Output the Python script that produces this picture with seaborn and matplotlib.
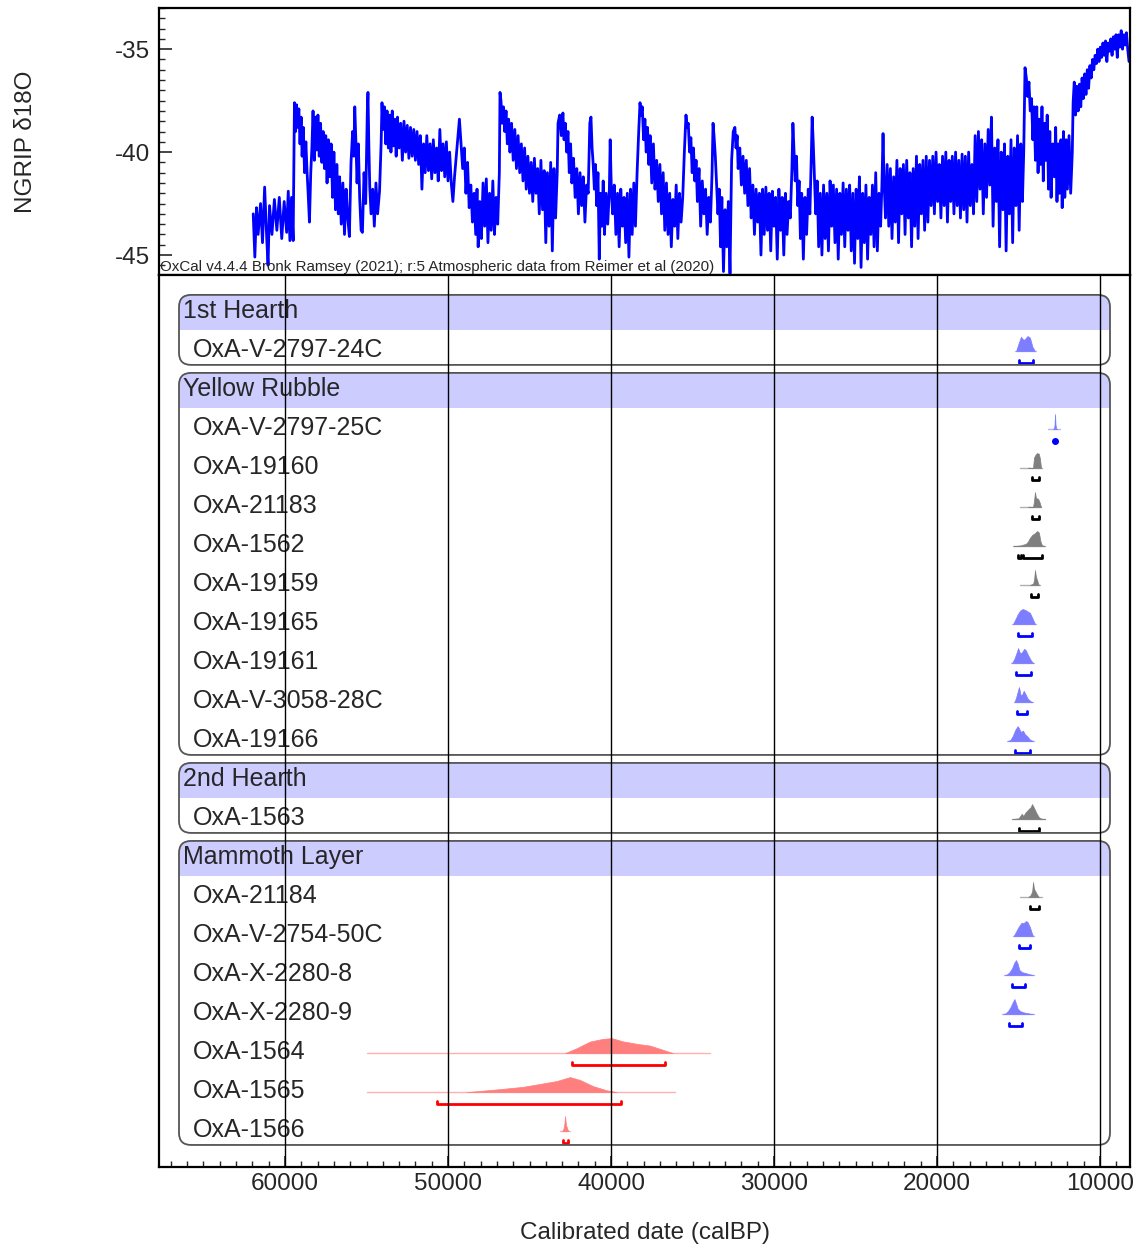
import numpy as np
import pandas as pd
import matplotlib
matplotlib.use("Agg")
import matplotlib.pyplot as plt
import seaborn as sns
from matplotlib.patches import FancyBboxPatch, Rectangle
from matplotlib.ticker import MultipleLocator

# NGRIP d18O record: (age calBP, permil)
ngrip = [
    (61950, -43.0), (61850, -45.1), (61750, -42.7), (61650, -44.0), (61500, -42.5), (61380, -44.4),
    (61250, -41.7), (61120, -44.2), (61040, -45.5), (60950, -42.6), (60800, -44.0), (60650, -42.3),
    (60500, -43.8), (60350, -42.2), (60200, -44.2), (60050, -42.4), (59900, -43.9), (59800, -41.9),
    (59700, -44.3), (59600, -42.2), (59500, -44.3),
    (59420, -37.6), (59350, -39.0), (59290, -37.7), (59220, -38.8), (59150, -37.9), (59080, -39.6),
    (59010, -38.3), (58950, -40.2), (58880, -38.8), (58800, -41.0), (58720, -39.5), (58650, -40.9),
    (58580, -42.0), (58500, -43.4), (58420, -41.0), (58350, -39.8), (58280, -38.0), (58200, -40.4),
    (58130, -38.3), (58050, -39.9), (57980, -38.2), (57900, -40.2), (57820, -38.6), (57740, -40.5),
    (57660, -39.0), (57580, -40.8), (57500, -39.2), (57420, -41.5), (57340, -39.4), (57250, -41.2),
    (57170, -39.6), (57080, -42.2), (57000, -40.0), (56900, -42.8), (56820, -40.6), (56730, -43.0),
    (56650, -41.2), (56550, -43.5), (56450, -41.5), (56350, -44.0), (56250, -41.8), (56150, -43.2),
    (56050, -44.1), (55950, -40.5), (55850, -39.0), (55780, -40.2), (55720, -37.8), (55650, -39.5),
    (55580, -41.5), (55500, -39.6), (55420, -42.2), (55330, -43.8), (55250, -43.9), (55150, -41.0),
    (55050, -42.5), (54950, -38.0), (54910, -37.1), (54860, -39.5), (54800, -41.7), (54720, -43.0),
    (54620, -41.8), (54520, -43.6), (54420, -41.5), (54320, -43.0), (54200, -41.9), (54100, -39.5),
    (54050, -37.6), (53980, -38.9), (53900, -37.8), (53820, -39.6), (53740, -38.0), (53660, -39.8),
    (53580, -38.2), (53500, -40.0), (53420, -38.0), (53340, -39.7), (53260, -38.4), (53180, -40.2),
    (53100, -38.3), (53000, -39.8), (52900, -38.6), (52800, -40.4), (52700, -38.5), (52600, -40.0),
    (52500, -38.7), (52400, -40.3), (52300, -38.8), (52200, -40.2), (52100, -38.9), (52000, -40.4),
    (51900, -39.0), (51800, -40.6), (51700, -39.2), (51600, -41.8), (51500, -39.6), (51400, -41.0),
    (51300, -39.2), (51200, -40.9), (51100, -39.6), (51000, -41.3), (50900, -39.4), (50800, -41.0),
    (50700, -39.8), (50600, -41.4), (50500, -38.9), (50400, -40.9), (50300, -39.6), (50200, -41.2),
    (50100, -39.5), (50000, -41.4), (49900, -40.0), (49800, -41.5), (49700, -42.4), (49600, -41.2),
    (49450, -39.8), (49300, -38.4), (49200, -39.6), (49100, -40.8), (49000, -39.8), (48900, -42.0),
    (48800, -40.5), (48700, -42.7), (48600, -41.6), (48500, -43.4), (48400, -42.0), (48300, -44.0),
    (48220, -41.8), (48150, -44.6), (48050, -42.4), (47950, -44.2), (47850, -41.5), (47750, -43.6),
    (47650, -41.3), (47550, -44.4), (47450, -42.0), (47350, -43.8), (47250, -41.4), (47150, -44.0),
    (47050, -42.2), (46950, -43.5), (46850, -41.0), (46810, -37.1), (46750, -37.5), (46680, -38.6),
    (46600, -37.8), (46520, -39.0), (46440, -38.0), (46360, -39.6), (46280, -38.4), (46200, -40.0),
    (46100, -38.6), (46000, -40.4), (45900, -38.9), (45800, -40.8), (45700, -39.2), (45600, -41.0),
    (45500, -39.6), (45400, -41.4), (45300, -39.8), (45200, -41.8), (45100, -40.2), (45000, -42.0),
    (44900, -40.5), (44800, -42.4), (44700, -40.3), (44600, -42.0), (44500, -40.8), (44400, -43.0),
    (44300, -40.4), (44200, -42.8), (44100, -40.9), (44000, -44.4), (43900, -41.0), (43800, -43.6),
    (43700, -40.5), (43600, -44.8), (43500, -40.8), (43400, -43.2), (43300, -41.0), (43250, -38.6),
    (43150, -38.2), (43050, -39.2), (42950, -38.1), (42880, -39.4), (42800, -38.6), (42720, -40.0),
    (42640, -39.0), (42560, -41.0), (42480, -39.6), (42400, -41.5), (42300, -40.3), (42200, -42.2),
    (42100, -40.8), (42000, -43.0), (41900, -41.0), (41800, -42.6), (41700, -41.2), (41600, -43.4),
    (41500, -41.6), (41400, -42.0), (41300, -38.6), (41230, -38.3), (41160, -39.8), (41100, -40.5),
    (41020, -41.8), (40950, -40.6), (40880, -42.6), (40800, -41.0), (40720, -45.2), (40650, -42.0),
    (40560, -43.6), (40480, -41.4), (40400, -44.0), (40300, -42.0), (40200, -43.5), (40100, -41.8),
    (40050, -39.4), (39980, -41.8), (39900, -43.0), (39800, -41.6), (39700, -44.0), (39600, -42.0),
    (39500, -44.6), (39400, -41.8), (39300, -43.6), (39200, -42.2), (39100, -44.4), (39000, -42.0),
    (38900, -45.1), (38800, -41.8), (38700, -44.0), (38600, -41.5), (38500, -43.6), (38400, -41.0),
    (38300, -39.0), (38220, -37.6), (38150, -38.2), (38080, -37.8), (38000, -39.4), (37920, -38.4),
    (37840, -40.0), (37760, -38.8), (37680, -40.6), (37600, -39.2), (37500, -41.5), (37400, -39.6),
    (37300, -41.8), (37200, -40.4), (37100, -42.4), (37000, -40.6), (36900, -43.0), (36800, -41.0),
    (36700, -43.8), (36600, -41.5), (36500, -44.0), (36400, -42.0), (36300, -44.6), (36200, -42.3),
    (36100, -43.6), (36000, -41.6), (35900, -44.2), (35800, -42.0), (35700, -43.4), (35600, -42.2),
    (35500, -40.0), (35400, -38.2), (35330, -38.8), (35260, -38.6), (35180, -40.0), (35100, -39.3),
    (35020, -41.0), (34940, -39.8), (34860, -41.4), (34780, -40.4), (34700, -42.4), (34600, -40.8),
    (34500, -43.6), (34400, -41.4), (34300, -43.0), (34200, -41.8), (34100, -44.0), (34000, -42.2),
    (33900, -43.4), (33800, -41.0), (33740, -38.6), (33680, -39.2), (33600, -40.2), (33520, -41.6),
    (33440, -43.0), (33360, -41.8), (33280, -44.6), (33200, -42.2), (33100, -45.8), (33000, -42.8),
    (32900, -44.6), (32800, -42.4), (32700, -45.9), (32600, -40.4), (32500, -39.0), (32400, -38.8),
    (32330, -39.8), (32260, -39.2), (32200, -40.8), (32100, -39.8), (32000, -41.6), (31900, -40.2),
    (31800, -42.0), (31700, -40.4), (31600, -42.6), (31500, -40.8), (31400, -43.2), (31300, -41.6),
    (31200, -44.0), (31100, -41.8), (31000, -43.4), (30900, -42.0), (30800, -45.0), (30700, -41.8),
    (30600, -44.0), (30500, -41.7), (30400, -43.8), (30300, -42.0), (30200, -44.8), (30100, -41.9),
    (30000, -43.6), (29900, -42.2), (29800, -45.2), (29700, -41.8), (29600, -43.8), (29500, -42.2),
    (29400, -45.0), (29300, -42.0), (29200, -44.0), (29100, -42.4), (29000, -43.2), (28900, -40.8),
    (28840, -38.6), (28780, -39.8), (28700, -41.4), (28620, -40.2), (28540, -42.6), (28460, -41.4),
    (28380, -44.2), (28300, -42.0), (28200, -45.2), (28100, -42.2), (28000, -44.0), (27900, -41.8),
    (27800, -43.0), (27700, -39.8), (27660, -38.3), (27600, -39.4), (27520, -41.2), (27440, -43.0),
    (27350, -41.4), (27260, -44.6), (27160, -42.0), (27060, -45.0), (26960, -41.6), (26860, -44.2),
    (26760, -42.0), (26660, -44.8), (26560, -41.4), (26460, -43.6), (26360, -41.6), (26260, -44.4),
    (26160, -41.8), (26060, -45.2), (25960, -42.0), (25860, -44.0), (25760, -41.5), (25660, -44.6),
    (25560, -41.8), (25460, -43.8), (25360, -41.6), (25260, -44.8), (25160, -42.0), (25060, -45.4),
    (24960, -41.8), (24860, -44.2), (24760, -41.2), (24660, -45.6), (24560, -42.0), (24460, -44.4),
    (24360, -41.6), (24260, -45.2), (24160, -42.2), (24060, -44.0), (23960, -41.6), (23860, -44.6),
    (23760, -41.0), (23660, -44.8), (23560, -42.0), (23460, -43.6), (23380, -41.6), (23310, -39.1),
    (23250, -41.4), (23160, -43.2), (23060, -40.6), (22960, -43.6), (22860, -40.8), (22760, -44.2),
    (22660, -41.2), (22560, -43.4), (22460, -40.4), (22360, -44.4), (22260, -40.8), (22160, -43.0),
    (22060, -40.6), (21960, -44.0), (21860, -40.4), (21760, -43.2), (21660, -41.0), (21560, -44.6),
    (21460, -40.8), (21360, -43.6), (21260, -40.2), (21160, -44.2), (21060, -40.6), (20960, -43.0),
    (20860, -40.4), (20760, -43.8), (20660, -40.2), (20560, -43.4), (20460, -40.4), (20360, -42.6),
    (20260, -40.2), (20160, -43.0), (20060, -40.0), (19960, -42.4), (19860, -40.6), (19760, -43.2),
    (19660, -40.2), (19560, -42.6), (19460, -40.0), (19360, -43.4), (19260, -40.4), (19160, -42.4),
    (19060, -40.2), (18960, -43.0), (18860, -40.0), (18760, -42.6), (18660, -40.4), (18560, -43.2),
    (18460, -40.1), (18360, -42.8), (18260, -40.2), (18160, -43.4), (18060, -40.0), (17960, -42.6),
    (17860, -40.6), (17760, -43.0), (17660, -39.2), (17560, -42.4), (17460, -39.0), (17360, -41.8),
    (17260, -39.4), (17160, -43.0), (17060, -39.6), (16960, -42.2), (16860, -38.9), (16760, -41.6),
    (16660, -38.3), (16560, -43.6), (16460, -39.8), (16360, -42.4), (16260, -39.4), (16160, -44.6),
    (16060, -40.0), (15960, -42.8), (15860, -39.6), (15760, -44.8), (15660, -40.2), (15560, -43.0),
    (15460, -39.4), (15360, -44.4), (15260, -39.8), (15160, -42.6), (15060, -39.2), (14960, -43.8),
    (14860, -39.6), (14760, -42.4), (14680, -40.0), (14620, -37.0), (14600, -35.9), (14520, -36.4),
    (14440, -37.3), (14360, -36.6), (14280, -38.0), (14200, -37.4), (14120, -39.4), (14040, -37.8),
    (13960, -40.4), (13880, -37.8), (13800, -41.0), (13720, -38.4), (13640, -40.6), (13560, -37.8),
    (13480, -41.4), (13400, -38.6), (13320, -40.4), (13240, -38.2), (13160, -41.8), (13080, -39.0),
    (13000, -42.2), (12900, -39.6), (12800, -41.2), (12720, -38.8), (12640, -42.4), (12560, -39.6),
    (12480, -42.0), (12400, -39.4), (12320, -42.7), (12240, -39.0), (12160, -42.2), (12080, -39.4),
    (12000, -41.8), (11900, -39.2), (11800, -42.0), (11700, -40.0), (11650, -37.6), (11580, -36.6),
    (11500, -38.2), (11420, -36.8), (11340, -38.0), (11260, -36.7), (11180, -37.8), (11100, -36.4),
    (11020, -37.4), (10940, -36.2), (10860, -37.2), (10780, -36.0), (10700, -36.9), (10620, -35.8),
    (10540, -36.4), (10460, -35.5), (10380, -36.0), (10300, -35.3), (10220, -35.7), (10140, -35.0),
    (10060, -35.6), (9980, -34.9), (9900, -35.4), (9820, -34.7), (9740, -35.3), (9660, -34.6),
    (9580, -35.6), (9500, -34.7), (9420, -35.1), (9340, -34.5), (9260, -35.3), (9180, -34.4),
    (9100, -35.0), (9020, -34.3), (8940, -35.4), (8860, -34.3), (8780, -34.9), (8700, -34.1),
    (8620, -35.0), (8540, -34.3), (8460, -34.8), (8380, -34.2), (8300, -35.0), (8220, -35.6),
]

groups = ["1st Hearth", "Yellow Rubble", "2nd Hearth", "Mammoth Layer"]
members = {
    "1st Hearth": ["OxA-V-2797-24C"],
    "Yellow Rubble": ["OxA-V-2797-25C", "OxA-19160", "OxA-21183", "OxA-1562", "OxA-19159",
                      "OxA-19165", "OxA-19161", "OxA-V-3058-28C", "OxA-19166"],
    "2nd Hearth": ["OxA-1563"],
    "Mammoth Layer": ["OxA-21184", "OxA-V-2754-50C", "OxA-X-2280-8", "OxA-X-2280-9",
                      "OxA-1564", "OxA-1565", "OxA-1566"],
}

kind = {
    "OxA-V-2797-24C": "blue", "OxA-V-2797-25C": "blue", "OxA-19160": "grey", "OxA-21183": "grey",
    "OxA-1562": "grey", "OxA-19159": "grey", "OxA-19165": "blue", "OxA-19161": "blue",
    "OxA-V-3058-28C": "blue", "OxA-19166": "blue", "OxA-1563": "grey", "OxA-21184": "grey",
    "OxA-V-2754-50C": "blue", "OxA-X-2280-8": "blue", "OxA-X-2280-9": "blue",
    "OxA-1564": "red", "OxA-1565": "red", "OxA-1566": "red",
}

# calibrated probability (relative height) against age calBP
dist_age = {
    "OxA-V-2797-24C": [15150, 15000, 14850, 14750, 14650, 14450, 14300, 14150, 14000],
    "OxA-V-2797-25C": [12880, 12820, 12790, 12760, 12730, 12690, 12640],
    "OxA-19160": [14400, 14110, 14050, 13950, 13870, 13750, 13680, 13620],
    "OxA-21183": [14400, 14110, 14050, 13990, 13930, 13800, 13700, 13620],
    "OxA-1562": [15300, 14900, 14700, 14550, 14420, 14300, 14150, 14000, 13860, 13750, 13650, 13558, 13400],
    "OxA-19159": [14300, 14100, 14040, 13990, 13930, 13860, 13800, 13740],
    "OxA-19165": [15337, 15200, 15050, 14900, 14750, 14600, 14450, 14300, 14150, 13988],
    "OxA-19161": [15400, 15250, 15100, 15030, 14900, 14800, 14650, 14550, 14400, 14250, 14100],
    "OxA-V-3058-28C": [15250, 15150, 15050, 14970, 14870, 14780, 14680, 14580, 14450, 14250, 14172],
    "OxA-19166": [15650, 15500, 15350, 15200, 15050, 14950, 14850, 14730, 14600, 14450, 14300, 14110],
    "OxA-1563": [15399, 15000, 14900, 14800, 14700, 14600, 14480, 14350, 14250, 14170, 14050, 13900,
                 13750, 13600, 13374],
    "OxA-21184": [14400, 14250, 14160, 14110, 14050, 13950, 13850, 13750],
    "OxA-V-2754-50C": [15300, 15150, 15000, 14850, 14780, 14700, 14550, 14450, 14300, 14200, 14110],
    "OxA-X-2280-8": [15830, 15700, 15550, 15400, 15250, 15150, 15050, 14950, 14800, 14600, 14400, 14110],
    "OxA-X-2280-9": [15950, 15800, 15650, 15500, 15350, 15250, 15150, 15050, 14900, 14700, 14400, 14110],
    "OxA-1564": [42820, 42100, 41290, 40490, 39960, 39260, 38420, 37610, 36810, 36200],
    "OxA-1565": [48850, 46810, 45400, 44170, 43330, 42520, 41900, 41100, 40260, 39650],
    "OxA-1566": [43000, 42920, 42860, 42820, 42760, 42680, 42620],
}
dist_h = {
    "OxA-V-2797-24C": [0, 0.5, 0.95, 0.8, 0.75, 1.0, 0.9, 0.3, 0],
    "OxA-V-2797-25C": [0, 0.05, 0.3, 1.0, 0.3, 0.05, 0],
    "OxA-19160": [0.03, 0, 0.7, 0.9, 1.0, 0.95, 0.6, 0],
    "OxA-21183": [0.03, 0, 0.4, 1.0, 0.6, 0.55, 0.3, 0],
    "OxA-1562": [0, 0.04, 0.1, 0.15, 0.3, 0.55, 0.75, 0.85, 1.0, 0.9, 0.3, 0.05, 0],
    "OxA-19159": [0, 0.1, 0.4, 1.0, 0.55, 0.35, 0.1, 0],
    "OxA-19165": [0, 0.3, 0.65, 0.9, 1.0, 0.95, 0.85, 0.75, 0.4, 0],
    "OxA-19161": [0, 0.3, 0.75, 1.0, 0.65, 0.7, 0.95, 0.85, 0.5, 0.2, 0],
    "OxA-V-3058-28C": [0, 0.3, 0.7, 1.0, 0.45, 0.5, 0.75, 0.55, 0.25, 0.05, 0],
    "OxA-19166": [0, 0.08, 0.35, 0.75, 1.0, 0.8, 0.6, 0.7, 0.45, 0.3, 0.1, 0],
    "OxA-1563": [0, 0.05, 0.2, 0.35, 0.2, 0.4, 0.55, 0.7, 0.8, 1.0, 0.75, 0.4, 0.12, 0.03, 0],
    "OxA-21184": [0, 0.15, 0.4, 1.0, 0.55, 0.35, 0.15, 0],
    "OxA-V-2754-50C": [0, 0.3, 0.6, 0.85, 0.9, 0.85, 1.0, 0.95, 0.6, 0.25, 0],
    "OxA-X-2280-8": [0, 0.05, 0.2, 0.45, 0.85, 1.0, 0.75, 0.35, 0.2, 0.15, 0.08, 0],
    "OxA-X-2280-9": [0, 0.05, 0.2, 0.45, 0.8, 1.0, 0.7, 0.35, 0.2, 0.12, 0.05, 0],
    "OxA-1564": [0, 0.33, 0.77, 0.95, 1.0, 0.78, 0.62, 0.5, 0.22, 0],
    "OxA-1565": [0, 0.2, 0.35, 0.58, 0.74, 1.0, 0.81, 0.4, 0.12, 0],
    "OxA-1566": [0, 0.15, 0.5, 1.0, 0.4, 0.15, 0],
}
# faint baseline extent of each distribution
tail = {
    "OxA-V-2797-24C": (15200, 13950), "OxA-V-2797-25C": (13190, 12454),
    "OxA-19160": (14908, 13558), "OxA-21183": (14908, 13620), "OxA-1562": (15337, 13374),
    "OxA-19159": (14908, 13681), "OxA-19165": (15400, 13950), "OxA-19161": (15450, 14050),
    "OxA-V-3058-28C": (15300, 14110), "OxA-19166": (15700, 14050), "OxA-1563": (15399, 13374),
    "OxA-21184": (14908, 13558), "OxA-V-2754-50C": (15350, 14050), "OxA-X-2280-8": (15880, 14050),
    "OxA-X-2280-9": (16000, 14050), "OxA-1564": (54970, 33930), "OxA-1565": (54970, 36070),
    "OxA-1566": (43100, 42500),
}
# 95.4% ranges
hpd = {
    "OxA-V-2797-24C": [(14950, 14100)], "OxA-V-2797-25C": [(12770, 12750)],
    "OxA-19160": [(14172, 13742)], "OxA-21183": [(14172, 13742)],
    "OxA-1562": [(15031, 14850), (14700, 13558)], "OxA-19159": [(14250, 13800)],
    "OxA-19165": [(15031, 14172)], "OxA-19161": [(15153, 14233)], "OxA-V-3058-28C": [(15092, 14479)],
    "OxA-19166": [(15215, 14295)], "OxA-1563": [(14969, 13742)], "OxA-21184": [(14295, 13742)],
    "OxA-V-2754-50C": [(14969, 14295)], "OxA-X-2280-8": [(15399, 14601)],
    "OxA-X-2280-9": [(15583, 14785)], "OxA-1564": [(42410, 36690)], "OxA-1565": [(50660, 39400)],
    "OxA-1566": [(42965, 42620)],
}

palette = {
    "blue": {"fill": "#7d7dff", "tail": "#b4b4ff", "range": "#0000ff"},
    "grey": {"fill": "#7f7f7f", "tail": "#b0b0b0", "range": "#000000"},
    "red": {"fill": "#ff7f7f", "tail": "#ffb0b0", "range": "#ff0000"},
}

sns.set_style("ticks")
plt.rcParams["font.family"] = ["Liberation Sans", "DejaVu Sans"]

W, H = 1142, 1249
fig = plt.figure(figsize=(W / 100, H / 100), dpi=100)
ax_top = fig.add_axes([159 / W, 1 - 275 / H, 971 / W, 267 / H])
ax = fig.add_axes([159 / W, 1 - 1167 / H, 971 / W, 892 / H])
XLIM = (67730, 8160)

# ---- NGRIP panel
df = pd.DataFrame(ngrip, columns=["age", "d18o"])
sns.lineplot(data=df, x="age", y="d18o", ax=ax_top, color="#0000ff", lw=2.0,
             estimator=None, sort=False)
ax_top.set_xlim(*XLIM)
ax_top.set_ylim(-45.97, -33.0)
ax_top.set_yticks([-45, -40, -35])
ax_top.set_yticklabels(["-45", "-40", "-35"])
ax_top.yaxis.set_minor_locator(MultipleLocator(0.5))
ax_top.tick_params(axis="y", which="major", direction="in", length=9, width=1.2,
                   labelsize=17.5, pad=6.5)
ax_top.tick_params(axis="y", which="minor", direction="in", length=4, width=1)
ax_top.tick_params(axis="x", which="both", bottom=False, labelbottom=False)
ax_top.set_xlabel("")
ax_top.set_ylabel("NGRIP δ18O", fontsize=17.5)
ax_top.yaxis.set_label_coords(-0.126, 0.5)
ax_top.text(0.001, 0.004,
            "OxCal v4.4.4 Bronk Ramsey (2021); r:5 Atmospheric data from Reimer et al (2020)",
            transform=ax_top.transAxes, fontsize=10.9, ha="left", va="bottom")
for sp in ax_top.spines.values():
    sp.set_linewidth(1.6)
    sp.set_color("black")

# ---- calibrated dates panel
ax.set_xlim(*XLIM)
ax.set_ylim(21.95, -0.92)
major = list(range(60000, 9999, -10000))
ax.set_xticks(major)
ax.set_xticklabels([str(v) for v in major])
ax.xaxis.set_minor_locator(MultipleLocator(1000))
ax.tick_params(axis="x", which="major", direction="in", length=8, width=1.2,
               labelsize=17.5, pad=4)
ax.tick_params(axis="x", which="minor", direction="in", length=4, width=1)
ax.tick_params(axis="y", which="both", left=False, labelleft=False)
ax.set_xlabel("Calibrated date (calBP)", fontsize=17.5, labelpad=20)
for sp in ax.spines.values():
    sp.set_linewidth(1.6)
    sp.set_color("black")
for g in major:
    ax.axvline(g, color="black", lw=1, zorder=10)

BOX_OLD, BOX_YOUNG = 66503, 9387
RND = 740
aspect = 0.308 / RND
row = 0
for grp in groups:
    top = row - 0.41
    bottom = row + len(members[grp]) + 0.385
    box = FancyBboxPatch((BOX_YOUNG, top), BOX_OLD - BOX_YOUNG, bottom - top,
                         boxstyle=f"round,pad=0,rounding_size={RND}", mutation_aspect=aspect,
                         facecolor="none", edgecolor="#555555", lw=1.3, zorder=6)
    ax.add_patch(box)
    band = Rectangle((BOX_YOUNG, top), BOX_OLD - BOX_YOUNG, 0.9, facecolor="#ccccff",
                     edgecolor="none", zorder=1)
    ax.add_patch(band)
    band.set_clip_path(box)
    ax.text(66258, row, grp, fontsize=18, ha="left", va="center", zorder=7)
    row += 1
    for name in members[grp]:
        col = palette[kind[name]]
        base = row + 0.03
        ax.text(65644, row, name, fontsize=18, ha="left", va="center", zorder=7)
        ax.plot(tail[name], [base, base], color=col["tail"], lw=1, zorder=3)
        a = np.array(dist_age[name], dtype=float)
        h = np.array(dist_h[name], dtype=float)
        ax.fill_between(a, base, base - 0.385 * h, color=col["fill"], lw=0.5, zorder=4)
        yb = row + 0.33
        for lo, hi in hpd[name]:
            if lo - hi < 100:
                ax.plot([(lo + hi) / 2], [yb], "o", color=col["range"], ms=4, zorder=5)
            else:
                ax.plot([lo, lo, hi, hi], [yb - 0.08, yb, yb, yb - 0.08],
                        color=col["range"], lw=2, zorder=5)
        row += 1

fig.savefig("out.png", dpi=100)
